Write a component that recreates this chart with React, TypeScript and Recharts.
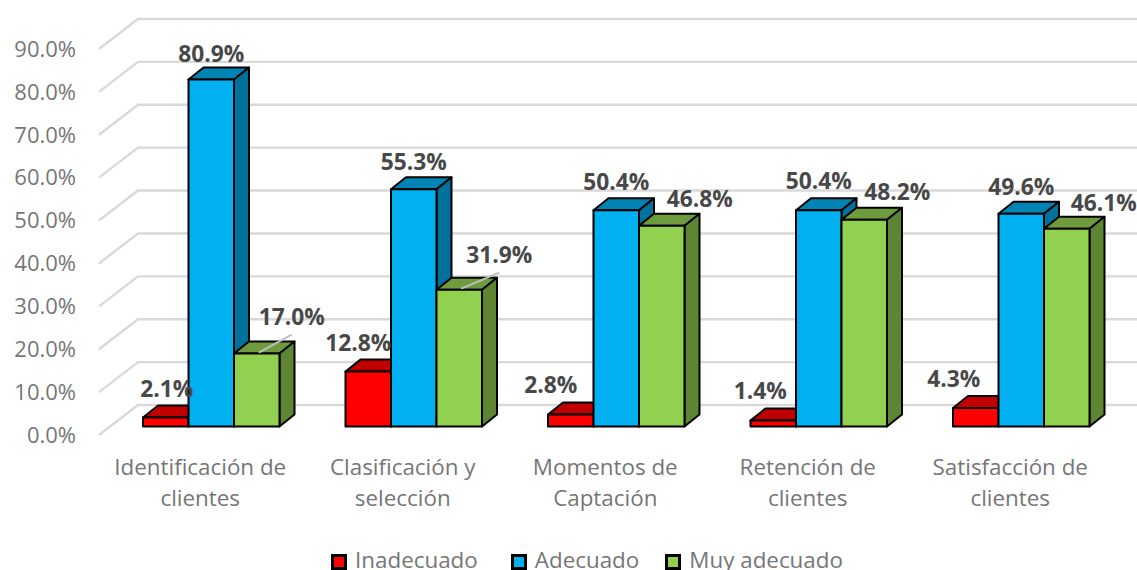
import { Bar, CartesianGrid, ComposedChart, LabelList, Legend, Line, XAxis, YAxis } from "recharts";

const categories = [
  "Identificación de clientes",
  "Clasificación y selección",
  "Momentos de Captación",
  "Retención de clientes",
  "Satisfacción de clientes",
];
const inadecuado = [2.1, 12.8, 2.8, 1.4, 4.3];
const adecuado = [80.9, 55.3, 50.4, 50.4, 49.6];
const muyAdecuado = [17.0, 31.9, 46.8, 48.2, 46.1];
const yTicks = [0, 10, 20, 30, 40, 50, 60, 70, 80, 90];

// label nudges away from each bar's top, same order as categories
const redNudge = [[1, -28], [-10, -29], [-20, -29], [-13, -29], [-22, -29]];
const blueNudge = [[0, -26], [0, -27], [0, -28], [0, -29], [0, -27]];
const greenNudge = [[35, -37], [40, -35], [38, -27], [33, -28], [37, -26]];

const data = categories.map((name, i) => ({
  name,
  inadecuado: inadecuado[i],
  adecuado: adecuado[i],
  muyAdecuado: muyAdecuado[i],
}));

const font = "'Open Sans', sans-serif";
const textGray = "#767676";
const labelDark = "#484848";
const gridGray = "#d9d9d9";

// fake 3D: bars sit in the middle of the floor, off the axis plane
const SHIFT_X = 11;
const SHIFT_Y = -8.5;
const DEPTH_X = 15;
const DEPTH_Y = -12;
const BAR_W = 45.5;

const makeBox = (front: string, top: string, side: string) => (props: any) => {
  const x = props.x + SHIFT_X;
  const y = props.y + SHIFT_Y;
  const w = props.width;
  const h = props.height;
  const stroke = { stroke: "#000", strokeWidth: 2, strokeLinejoin: "round" as const };
  return (
    <g>
      <polygon
        points={`${x},${y} ${x + DEPTH_X},${y + DEPTH_Y} ${x + w + DEPTH_X},${y + DEPTH_Y} ${x + w},${y}`}
        fill={top}
        {...stroke}
      />
      <polygon
        points={`${x + w},${y} ${x + w + DEPTH_X},${y + DEPTH_Y} ${x + w + DEPTH_X},${y + h + DEPTH_Y} ${x + w},${y + h}`}
        fill={side}
        {...stroke}
      />
      <rect x={x} y={y} width={w} height={h} fill={front} {...stroke} />
    </g>
  );
};

const gridLine = (props: any) => {
  const { x1, y1, x2 } = props;
  return (
    <polyline
      key={props.key ?? y1}
      points={`${x1},${y1} ${x1 + 39},${y1 - 30} ${x2 + 26},${y1 - 30}`}
      fill="none"
      stroke={gridGray}
      strokeWidth={2.4}
    />
  );
};

const CategoryTick = ({ x, y, payload }: any) => {
  const words = String(payload.value).split(" ");
  const last = words.pop();
  return (
    <text x={x} y={y + 4} textAnchor="middle" fill={textGray} fontSize={22.4} fontFamily={font}>
      <tspan x={x} dy={0}>{words.join(" ")}</tspan>
      <tspan x={x} dy={31}>{last}</tspan>
    </text>
  );
};

const makeLabel = (seriesDx: number, nudge: number[][], leader: boolean) => (props: any) => {
  const { x, y, value, index } = props;
  const barCx = x + seriesDx + SHIFT_X;
  const barTop = y + SHIFT_Y;
  const [dx, dy] = nudge[index];
  return (
    <g>
      {leader && dy < -30 ? (
        <line x1={barCx + 2} y1={barTop - 1} x2={barCx + dx} y2={barTop + dy + 18} stroke="#bfbfbf" strokeWidth={2} />
      ) : null}
      <text
        x={barCx + dx}
        y={barTop + dy + 8}
        textAnchor="middle"
        fill={labelDark}
        fontSize={22.8}
        fontWeight={700}
        fontFamily={font}
      >
        {`${Number(value).toFixed(1)}%`}
      </text>
    </g>
  );
};

const legendColors = ["#ff0000", "#00b0f0", "#92d050"];
const legendItems = ["Inadecuado", "Adecuado", "Muy adecuado"];
const legendGaps = [33, 26, 0];

const ChartLegend = () => (
  <div style={{ display: "flex", fontFamily: font, fontSize: 22.4, color: textGray, lineHeight: "28px", whiteSpace: "nowrap" }}>
    {legendItems.map((item, i) => (
      <span key={item} style={{ display: "flex", alignItems: "center", marginRight: legendGaps[i] }}>
        <span
          style={{
            boxSizing: "border-box",
            width: 16,
            height: 16,
            background: legendColors[i],
            border: "3px solid #000",
            marginRight: 8,
            marginTop: 3,
            display: "inline-block",
          }}
        />
        {item}
      </span>
    ))}
  </div>
);

export default function App() {
  return (
    <div style={{ position: "absolute", left: 0, top: 0, width: 1137, height: 570, overflow: "hidden", background: "#fff" }}>
      <ComposedChart
        width={1137}
        height={570}
        data={data}
        margin={{ top: 49, right: 25.5, left: 0, bottom: 35 }}
        barSize={BAR_W}
        barGap={0}
      >
        <CartesianGrid vertical={false} horizontal={gridLine} />
        <XAxis
          dataKey="name"
          axisLine={false}
          tickLine={false}
          interval={0}
          height={100}
          tick={<CategoryTick />}
          tickMargin={30}
        />
        <YAxis
          width={99}
          domain={[0, 90]}
          ticks={yTicks}
          axisLine={false}
          tickLine={false}
          tickSize={0}
          tickMargin={23}
          tick={{ fill: textGray, fontSize: 22, fontFamily: font }}
          tickFormatter={(v: number) => `${v.toFixed(1)}%`}
        />
        <Legend
          verticalAlign="middle"
          content={<ChartLegend />}
          wrapperStyle={{ top: 546, left: 331, width: "auto" }}
        />
        <Bar dataKey="inadecuado" isAnimationActive={false} shape={makeBox("#ff0000", "#c00000", "#a00000")} />
        <Bar dataKey="adecuado" isAnimationActive={false} shape={makeBox("#00b0f0", "#0084b4", "#00719c")} />
        <Bar dataKey="muyAdecuado" isAnimationActive={false} shape={makeBox("#92d050", "#6e9c3c", "#5e8532")} />
        <Line dataKey="inadecuado" stroke="none" dot={false} legendType="none" isAnimationActive={false}>
          <LabelList dataKey="inadecuado" content={makeLabel(-BAR_W, redNudge, false)} />
        </Line>
        <Line dataKey="adecuado" stroke="none" dot={false} legendType="none" isAnimationActive={false}>
          <LabelList dataKey="adecuado" content={makeLabel(0, blueNudge, false)} />
        </Line>
        <Line dataKey="muyAdecuado" stroke="none" dot={false} legendType="none" isAnimationActive={false}>
          <LabelList dataKey="muyAdecuado" content={makeLabel(BAR_W, greenNudge, true)} />
        </Line>
      </ComposedChart>
    </div>
  );
}
